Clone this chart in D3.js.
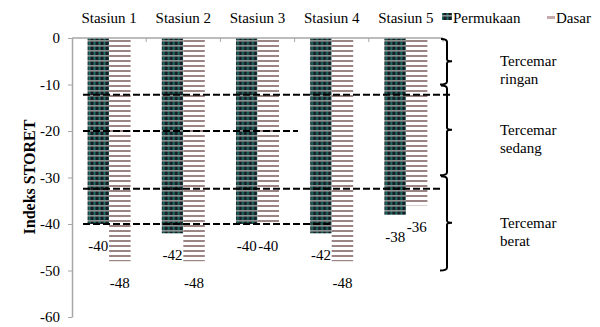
<!DOCTYPE html>
<html>
<head>
<meta charset="utf-8">
<script src="https://cdn.jsdelivr.net/npm/d3@7"></script>
<style>
  body { margin: 0; background: #fff; }
  svg text { font-family: "Liberation Serif", "Times New Roman", "DejaVu Serif", serif !important; }
</style>
</head>
<body>
<svg id="storet-chart" width="600" height="327"></svg>
<script>
// chart values
const stations = ["Stasiun 1", "Stasiun 2", "Stasiun 3", "Stasiun 4", "Stasiun 5"];
const series = ["Permukaan", "Dasar"];
const permukaan = [-40, -42, -40, -42, -38];
const dasar = [-48, -48, -40, -48, -36];
const yTicks = [0, -10, -20, -30, -40, -50, -60];
const refLines = [-12.2, -20, -32.4, -40];
const classBounds = [[0, -10], [-10, -29.5], [-29.5, -50]];
const classNames = [["Tercemar", "ringan"], ["Tercemar", "sedang"], ["Tercemar", "berat"]];

function drawChart(svg_id) {
    const svg = d3.select(svg_id);
    const plot = { left: 72, right: 443, top: 38, bottom: 317 };
    const axisGray = '#a6a6a6';

    // patterns for the two series
    const defs = svg.append('defs');
    const pat1 = defs.append('pattern')
        .attr('id', 'pat-permukaan')
        .attr('patternUnits', 'userSpaceOnUse')
        .attr('width', 5).attr('height', 5);
    pat1.append('rect').attr('width', 5).attr('height', 5).attr('fill', '#171c24');
    pat1.append('rect').attr('x', 1.5).attr('width', 2).attr('height', 5).attr('fill', '#1d6e64');
    pat1.append('rect').attr('width', 5).attr('height', 1.6).attr('fill', '#8e9191');

    const pat2 = defs.append('pattern')
        .attr('id', 'pat-dasar')
        .attr('patternUnits', 'userSpaceOnUse')
        .attr('width', 5).attr('height', 5);
    pat2.append('rect').attr('width', 5).attr('height', 5).attr('fill', '#fff');
    pat2.append('rect').attr('width', 5).attr('height', 2).attr('fill', '#9c8484');

    const fills = { Permukaan: 'url(#pat-permukaan)', Dasar: 'url(#pat-dasar)' };

    // scales
    const y = d3.scaleLinear().domain([0, -60]).range([plot.top, plot.bottom]);
    const x0 = d3.scaleBand().domain(stations).range([plot.left, plot.right]);
    const x1 = d3.scaleBand().domain(series).range([0, x0.bandwidth()]).paddingOuter(0.725);

    const data = stations.map((s, i) => ({ station: s, values: [
        { key: 'Permukaan', value: permukaan[i] },
        { key: 'Dasar', value: dasar[i] }
    ]}));

    // bars
    const groups = svg.selectAll('.group')
        .data(data)
        .enter()
        .append('g')
        .attr('class', 'group')
        .attr('transform', d => `translate(${x0(d.station)},0)`);

    groups.selectAll('rect')
        .data(d => d.values)
        .enter()
        .append('rect')
        .attr('x', d => x1(d.key))
        .attr('y', y(0))
        .attr('width', x1.bandwidth())
        .attr('height', d => y(d.value) - y(0))
        .attr('fill', d => fills[d.key]);

    // value labels
    groups.selectAll('.vlabel')
        .data(d => d.values)
        .enter()
        .append('text')
        .attr('class', 'vlabel')
        .attr('x', d => x1(d.key) + x1.bandwidth() / 2)
        .attr('y', d => y(d.value) + 27)
        .attr('text-anchor', 'middle')
        .style('font-size', '15px')
        .text(d => d.value);

    // y axis
    const yAxis = svg.append('g')
        .attr('transform', `translate(${plot.left},0)`)
        .call(d3.axisLeft(y).tickValues(yTicks).tickFormat(d => String(d))
            .tickSize(4).tickSizeOuter(0).tickPadding(8));
    yAxis.select('.domain').attr('stroke', axisGray).attr('stroke-width', 1.5);
    yAxis.selectAll('.tick line').attr('stroke', axisGray);
    yAxis.selectAll('.tick text')
        .style('font-size', '15px')
        .attr('fill', '#000');

    // top category axis
    svg.append('line')
        .attr('x1', plot.left).attr('x2', plot.right)
        .attr('y1', y(0)).attr('y2', y(0))
        .attr('stroke', axisGray).attr('stroke-width', 1.5);
    svg.selectAll('.ctick')
        .data(stations.slice(1).map(s => x0(s)).concat([plot.right]))
        .enter()
        .append('line')
        .attr('x1', d => d).attr('x2', d => d)
        .attr('y1', y(0)).attr('y2', y(0) + 4)
        .attr('stroke', axisGray);
    svg.selectAll('.clabel')
        .data(stations)
        .enter()
        .append('text')
        .attr('x', d => x0(d) + x0.bandwidth() / 2)
        .attr('y', 23)
        .attr('text-anchor', 'middle')
        .style('font-size', '15px')
        .text(d => d);

    // y axis title
    svg.append('text')
        .attr('transform', 'translate(31,177) rotate(-90)')
        .attr('text-anchor', 'middle')
        .attr('dominant-baseline', 'middle')
        .style('font-size', '16px')
        .style('font-weight', 'bold')
        .text('Indeks STORET');

    // dashed reference lines
    const refEnds = [451, 298, 441, 330];
    svg.selectAll('.ref')
        .data(refLines)
        .enter()
        .append('line')
        .attr('x1', 83).attr('x2', (d, i) => refEnds[i])
        .attr('y1', d => y(d)).attr('y2', d => y(d))
        .attr('stroke', '#000')
        .attr('stroke-width', 2)
        .attr('stroke-dasharray', '7,3');

    // braces for pollution classes
    const bx = 447;
    svg.selectAll('.brace')
        .data(classBounds)
        .enter()
        .append('path')
        .attr('fill', 'none')
        .attr('stroke', '#000')
        .attr('stroke-width', 2)
        .attr('d', d => {
            const a = y(d[0]) + 1, b = y(d[1]), m = (y(d[0]) + y(d[1])) / 2;
            return `M${bx - 6},${a} Q${bx},${a} ${bx},${a + 3} L${bx},${m - 2} Q${bx},${m} ${bx + 5},${m}`
                + ` Q${bx},${m} ${bx},${m + 2} L${bx},${b - 3} Q${bx},${b} ${bx - 7},${b}`;
        });

    const cls = svg.selectAll('.cls')
        .data(classBounds)
        .enter()
        .append('text')
        .attr('x', 500)
        .attr('y', d => y((d[0] + d[1]) / 2) + 5)
        .style('font-size', '15px');
    cls.append('tspan').text((d, i) => classNames[i][0]);
    cls.append('tspan').attr('x', 500).attr('dy', 18).text((d, i) => classNames[i][1]);

    // legend
    const legend = svg.append('g');
    legend.append('rect').attr('x', 442).attr('y', 13).attr('width', 10).attr('height', 7)
        .attr('fill', fills.Permukaan);
    legend.append('text').attr('x', 453).attr('y', 23).style('font-size', '15px').text(series[0]);
    legend.append('rect').attr('x', 547).attr('y', 16).attr('width', 8).attr('height', 3)
        .attr('fill', '#c4aaaa');
    legend.append('text').attr('x', 556).attr('y', 23).style('font-size', '15px').text(series[1]);
}

drawChart('#storet-chart');
</script>
</body>
</html>
